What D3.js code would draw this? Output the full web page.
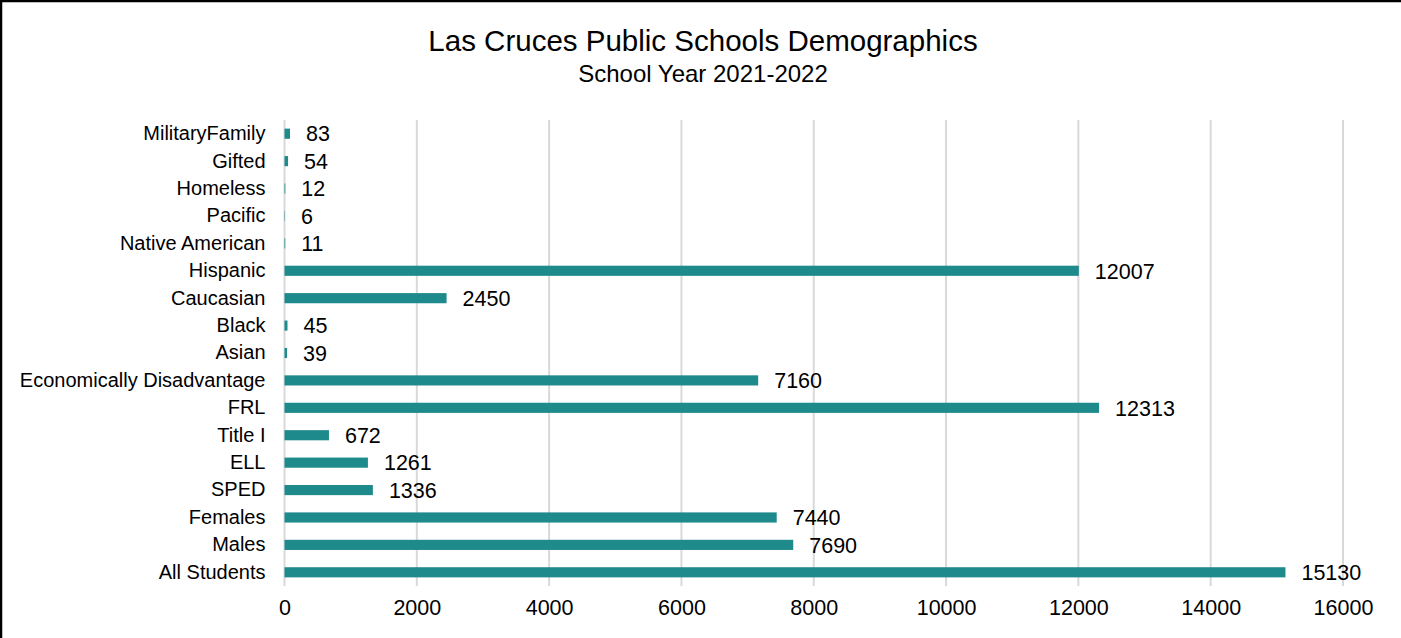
<!DOCTYPE html>
<html>
<head>
<meta charset="utf-8">
<script src="https://cdn.jsdelivr.net/npm/d3@7"></script>
<style>
  html, body { margin: 0; padding: 0; background: #fff; }
  svg { display: block; font-family: "Liberation Sans", Arial, sans-serif; }
  .axis path, .axis line { display: none; }
  .axis text { fill: #000; }
</style>
</head>
<body>
<svg id="chart" width="1401" height="638"></svg>
<script>
// Categories top to bottom
const categories = [
  'MilitaryFamily', 'Gifted', 'Homeless', 'Pacific', 'Native American',
  'Hispanic', 'Caucasian', 'Black', 'Asian', 'Economically Disadvantage',
  'FRL', 'Title I', 'ELL', 'SPED', 'Females', 'Males', 'All Students'
];
const counts = [83, 54, 12, 6, 11, 12007, 2450, 45, 39, 7160, 12313, 672, 1261, 1336, 7440, 7690, 15130];
const xTicks = [0, 2000, 4000, 6000, 8000, 10000, 12000, 14000, 16000];

const data = categories.map((name, i) => ({ name, count: counts[i] }));
const BAR_COLOR = '#1f8a8c';

const svg = d3.select('#chart');

// frame (left + top edges visible)
svg.append('rect')
  .attr('x', 1).attr('y', 1)
  .attr('width', 1410).attr('height', 650)
  .attr('fill', 'none')
  .attr('stroke', '#000')
  .attr('stroke-width', 2.5);

// titles
svg.append('text')
  .attr('x', 703).attr('y', 51)
  .attr('text-anchor', 'middle')
  .style('font-size', '29.5px')
  .text('Las Cruces Public Schools Demographics');

svg.append('text')
  .attr('x', 703).attr('y', 82)
  .attr('text-anchor', 'middle')
  .style('font-size', '24px')
  .text('School Year 2021-2022');

const margin = { left: 284.5, top: 120, right: 1401 - 1343, bottom: 638 - 586 };
const width  = 1401 - margin.left - margin.right;
const height = 638 - margin.top - margin.bottom;

const g = svg.append('g')
  .attr('transform', `translate(${margin.left},${margin.top})`);

const x = d3.scaleLinear()
  .domain([0, 16000])
  .range([0, width]);

const y = d3.scaleBand()
  .domain(categories)
  .range([0, height])
  .paddingInner(0.63)
  .paddingOuter(0.315);

// gridlines
g.selectAll('.grid')
  .data(xTicks)
  .enter()
  .append('line')
  .attr('class', 'grid')
  .attr('x1', d => x(d)).attr('x2', d => x(d))
  .attr('y1', 0).attr('y2', height)
  .attr('stroke', '#d9d9d9')
  .attr('stroke-width', 2);

// bars
g.selectAll('.bar')
  .data(data)
  .enter()
  .append('rect')
  .attr('class', 'bar')
  .attr('x', 0)
  .attr('y', d => y(d.name))
  .attr('width', d => x(d.count))
  .attr('height', y.bandwidth())
  .attr('fill', BAR_COLOR);

// value labels
g.selectAll('.bar-label')
  .data(data)
  .enter()
  .append('text')
  .attr('class', 'bar-label')
  .attr('x', d => x(d.count) + 16)
  .attr('y', d => y(d.name) + y.bandwidth() / 2)
  .attr('dy', '0.36em')
  .style('font-size', '21.5px')
  .text(d => d.count);

// category axis
g.append('g')
  .attr('class', 'axis')
  .call(d3.axisLeft(y).tickSize(0).tickPadding(19))
  .selectAll('text')
  .style('font-size', '20px');

// value axis
g.append('g')
  .attr('class', 'axis')
  .attr('transform', `translate(0,${height})`)
  .call(d3.axisBottom(x).tickValues(xTicks).tickFormat(d3.format('d')).tickSize(0).tickPadding(14))
  .selectAll('text')
  .style('font-size', '21.5px');
</script>
</body>
</html>
